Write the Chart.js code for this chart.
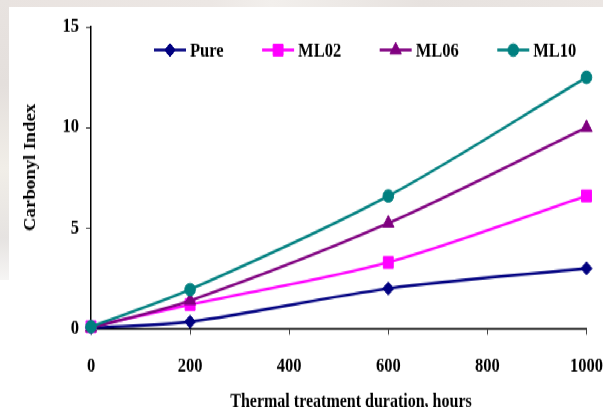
<!DOCTYPE html>
<html>
<head>
<meta charset="utf-8">
<script src="https://cdn.jsdelivr.net/npm/chart.js@4/dist/chart.umd.min.js"></script>
<style>
  html, body { margin: 0; padding: 0; }
  body { width: 603px; height: 407px; position: relative; overflow: hidden; background: #ffffff; }
  #bgTop { position: absolute; left: 0; top: 0; width: 603px; height: 7px;
           background: linear-gradient(90deg, #e9e3e0 0%, #ece7e4 35%, #f2efec 45%, #e7e2df 70%, #ebe6e3 100%); }
  #bgLeft { position: absolute; left: 0; top: 0; width: 9px; height: 280px;
            background: linear-gradient(180deg, #e8e3e0 0%, #e4dfdc 30%, #f1eee8 60%, #e6e3e1 85%, #f6f5f4 100%); }
  #wrap { position: absolute; left: 9px; top: 7px; width: 611px; height: 339px;
          transform: scaleY(1.18); transform-origin: 0 0; background: #ffffff; }
</style>
</head>
<body>
<div id="bgTop"></div>
<div id="bgLeft"></div>
<div id="wrap"><canvas id="chart" width="611" height="339"></canvas></div>
<script>
// Carbonyl index vs. thermal treatment duration
const hours = [0, 200, 600, 1000];
const pure  = [0.05, 0.35, 2.0, 3.0];
const ml02  = [0.1, 1.2, 3.3, 6.6];
const ml06  = [0.05, 1.4, 5.25, 10.0];
const ml10  = [0.1, 1.95, 6.6, 12.5];
const seriesNames = ['Pure', 'ML02', 'ML06', 'ML10'];
const xTicks = [0, 200, 400, 600, 800, 1000];
const yTicks = [0, 5, 10, 15];

const FONT = '"Liberation Serif", "Times New Roman", serif';
const pts = arr => hours.map((h, i) => ({ x: h, y: arr[i] }));

const styles = [
  { color: '#000080', point: 'rectRot',  radius: 5.5, order: 3 },
  { color: '#ff00ff', point: 'rect',     radius: 7,   order: 2 },
  { color: '#800080', point: 'triangle', radius: 6.5, order: 1 },
  { color: '#008080', point: 'circle',   radius: 5.3, order: 0 }
];
const values = [pure, ml02, ml06, ml10];

const datasets = values.map((v, i) => ({
  label: seriesNames[i],
  data: pts(v),
  borderColor: styles[i].color,
  backgroundColor: styles[i].color,
  pointBackgroundColor: styles[i].color,
  pointBorderColor: styles[i].color,
  pointStyle: styles[i].point,
  pointRadius: styles[i].radius,
  pointBorderWidth: 1,
  borderWidth: 2.4,
  tension: 0.3,
  order: styles[i].order,
  clip: false
}));

// Legend drawn inside the plot: short line with the marker on it, then the label
const insideLegend = {
  id: 'insideLegend',
  afterDraw(chart) {
    const ctx = chart.ctx;
    ctx.save();
    ctx.font = 'bold 16.5px ' + FONT;
    ctx.textBaseline = 'middle';
    let x = 145;
    const y = 36.5;
    chart.data.datasets.forEach((ds) => {
      ctx.strokeStyle = ds.borderColor;
      ctx.lineWidth = 2.4;
      ctx.beginPath();
      ctx.moveTo(x, y);
      ctx.lineTo(x + 32, y);
      ctx.stroke();
      ctx.fillStyle = ds.borderColor;
      ctx.lineWidth = 1;
      Chart.helpers.drawPoint(ctx,
        { pointStyle: ds.pointStyle, rotation: 0, borderWidth: 1, radius: ds.pointRadius }, x + 16, y);
      ctx.fillStyle = '#000';
      ctx.fillText(ds.label, x + 36, y + 1);
      x += 36 + ctx.measureText(ds.label).width + 38.5;
    });
    ctx.restore();
  }
};

// Axis titles
const axisTitles = {
  id: 'axisTitles',
  afterDraw(chart) {
    const ctx = chart.ctx;
    ctx.save();
    ctx.fillStyle = '#000';
    ctx.font = 'bold 16px ' + FONT;
    ctx.textAlign = 'center';
    ctx.textBaseline = 'alphabetic';
    ctx.fillText('Thermal treatment duration, hours', 342, 338.5);
    ctx.translate(21.5, 136);
    ctx.rotate(-Math.PI / 2);
    ctx.textBaseline = 'middle';
    ctx.fillText('Carbonyl Index', 0, 0);
    ctx.restore();
  }
};

new Chart(document.getElementById('chart'), {
  type: 'line',
  data: { datasets },
  plugins: [insideLegend, axisTitles],
  options: {
    responsive: false,
    animation: false,
    devicePixelRatio: 1,
    layout: { padding: { left: 0, right: 0, top: 17, bottom: 0 } },
    plugins: { legend: { display: false }, tooltip: { enabled: false } },
    scales: {
      x: {
        type: 'linear',
        min: 0, max: 1000,
        afterBuildTicks: s => { s.ticks = xTicks.map(v => ({ value: v })); },
        afterFit: s => { s.height = 66.3; },
        grid: { display: true, drawOnChartArea: false, drawTicks: true, tickLength: 5, color: '#444', lineWidth: 1 },
        border: { display: true, color: '#000', width: 1.5 },
        ticks: { color: '#000', padding: 17, font: { family: FONT, size: 16.5, weight: 'bold' },
                 maxRotation: 0, callback: v => String(v) }
      },
      y: {
        min: 0, max: 15,
        afterBuildTicks: s => { s.ticks = yTicks.map(v => ({ value: v })); },
        afterFit: s => { s.width = 82; },
        grid: { display: true, drawOnChartArea: false, drawTicks: true, tickLength: 5, color: '#444', lineWidth: 1 },
        border: { display: true, color: '#000', width: 1.5 },
        ticks: { color: '#000', padding: 7, font: { family: FONT, size: 16.5, weight: 'bold' },
                 callback: v => String(v) }
      }
    }
  }
});
</script>
</body>
</html>
